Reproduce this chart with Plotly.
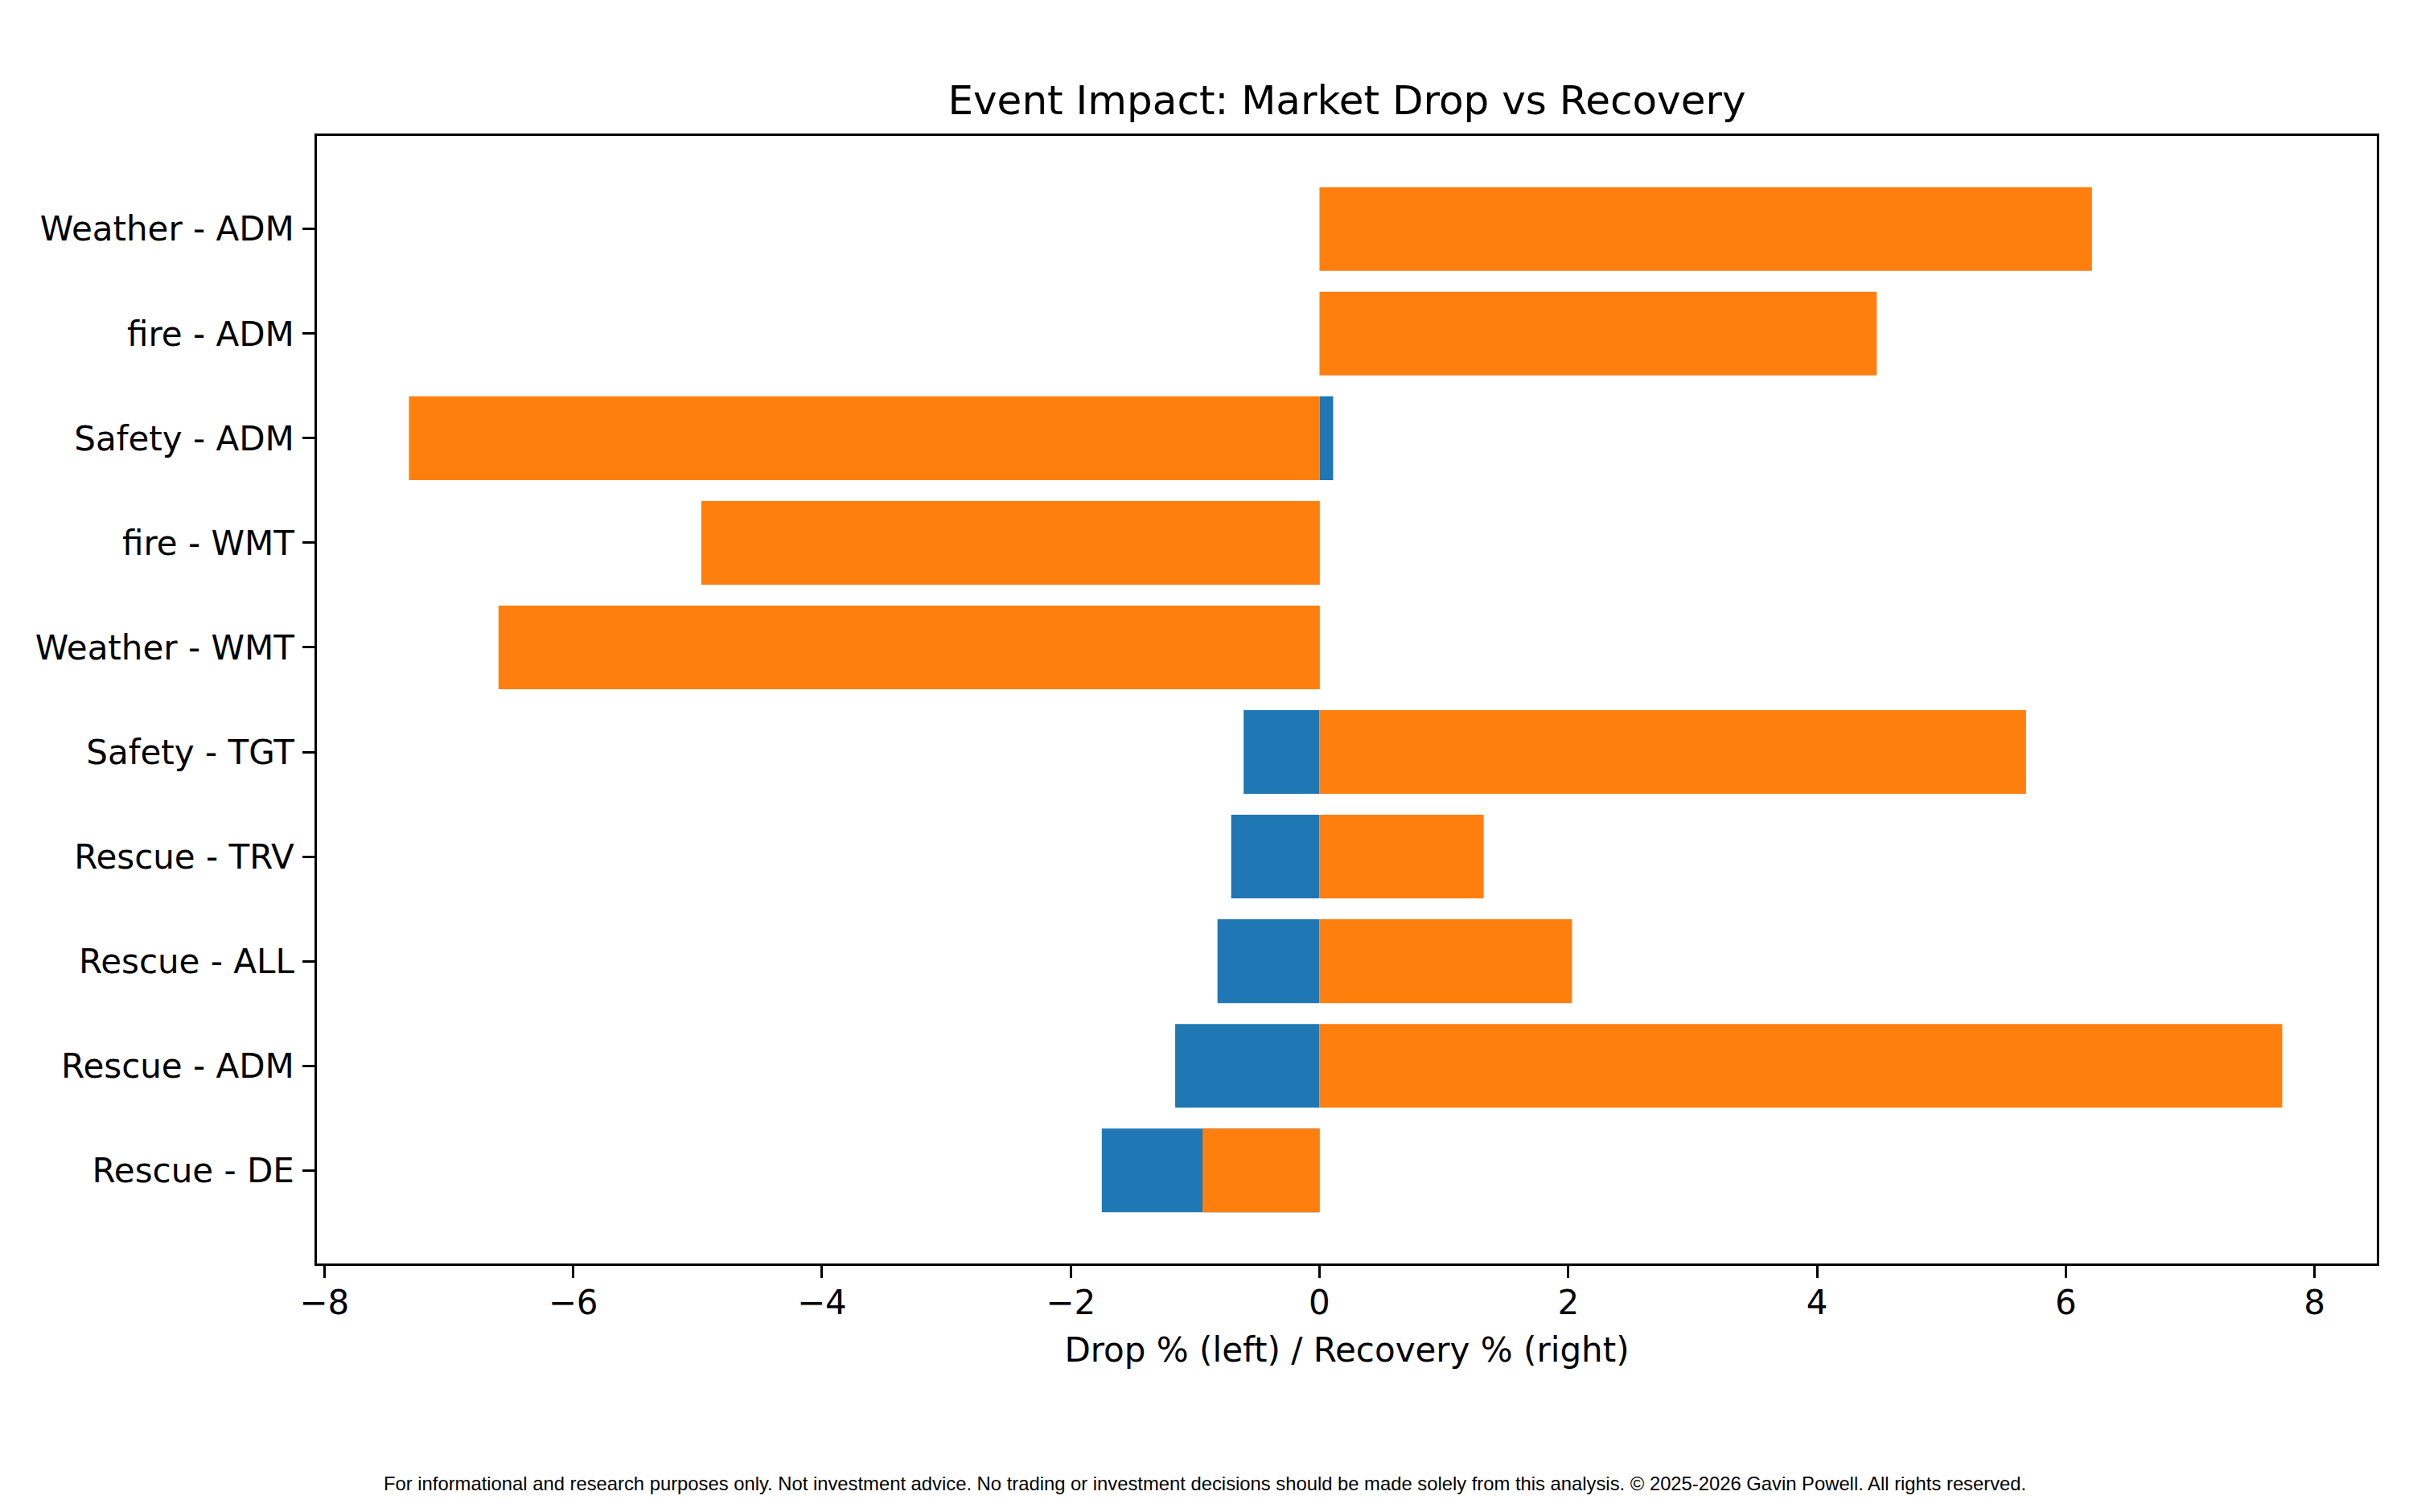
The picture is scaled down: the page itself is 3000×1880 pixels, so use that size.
"""Event impact chart: market drop vs recovery per event/ticker."""
import plotly.graph_objects as go

# bottom to top, as drawn
events   = ['Rescue - DE', 'Rescue - ADM', 'Rescue - ALL', 'Rescue - TRV', 'Safety - TGT',
            'Weather - WMT', 'fire - WMT', 'Safety - ADM', 'fire - ADM', 'Weather - ADM']
drop     = [-1.75, -1.16, -0.82, -0.71, -0.61, -0.50, -0.35, 0.11, 0.0, 0.0]
recovery = [-0.94, 7.74, 2.03, 1.32, 5.68, -6.60, -4.97, -7.32, 4.48, 6.21]
x_ticks  = [-8, -6, -4, -2, 0, 2, 4, 6, 8]

BLUE = '#1f77b4'
ORANGE = '#ff7f0e'
FONT = 'DejaVu Sans'
FOOTER = ('For informational and research purposes only. Not investment advice. '
          'No trading or investment decisions should be made solely from this analysis. '
          '\u00a9 2025-2026 Gavin Powell. All rights reserved.')

# page body keeps its 8px margin, so the figure is 16px smaller than the window
W, H = 2984, 1864
L, R, T, B = 386, 2947, 161, 1563

ypos = list(range(len(events)))

fig = go.Figure()
fig.add_trace(go.Bar(y=ypos, x=drop, orientation='h', width=0.8,
                     marker=dict(color=BLUE, line=dict(width=0)), name='Drop %'))
fig.add_trace(go.Bar(y=ypos, x=recovery, orientation='h', width=0.8,
                     marker=dict(color=ORANGE, line=dict(width=0)), name='Recovery %'))

axis_common = dict(showline=True, linecolor='black', linewidth=3.3, mirror=True,
                   ticks='outside', ticklen=14.6, tickwidth=3.3, tickcolor='black',
                   showgrid=False, zeroline=False, automargin=False,
                   tickfont=dict(family=FONT, size=42, color='black'))

fig.update_layout(
    width=W, height=H,
    margin=dict(l=L, r=W - R, t=T, b=H - B, autoexpand=False),
    paper_bgcolor='white', plot_bgcolor='white',
    barmode='overlay', showlegend=False,
    font=dict(family=FONT, color='black'),
    title=dict(text='Event Impact: Market Drop vs Recovery',
               font=dict(family=FONT, size=50, color='black'),
               x=0.5, xref='paper', xanchor='center',
               y=1 - 134 / H, yref='container', yanchor='bottom'),
    xaxis=dict(range=[-8.06, 8.50], tickvals=x_ticks, ticklabelstandoff=-5,
               title=dict(text='Drop % (left) / Recovery % (right)',
                          font=dict(family=FONT, size=42, color='black'), standoff=21),
               **axis_common),
    yaxis=dict(range=[-0.89, 9.89], tickvals=ypos, ticktext=events, ticklabelstandoff=2,
               **axis_common),
)

fig.add_annotation(text=FOOTER, xref='paper', yref='paper',
                   x=(1490 - L) / (R - L), y=-(1852 - B) / (B - T),
                   xanchor='center', yanchor='bottom', showarrow=False,
                   font=dict(family='Liberation Sans', size=23.8, color='black'))

fig.write_html('out.html')
